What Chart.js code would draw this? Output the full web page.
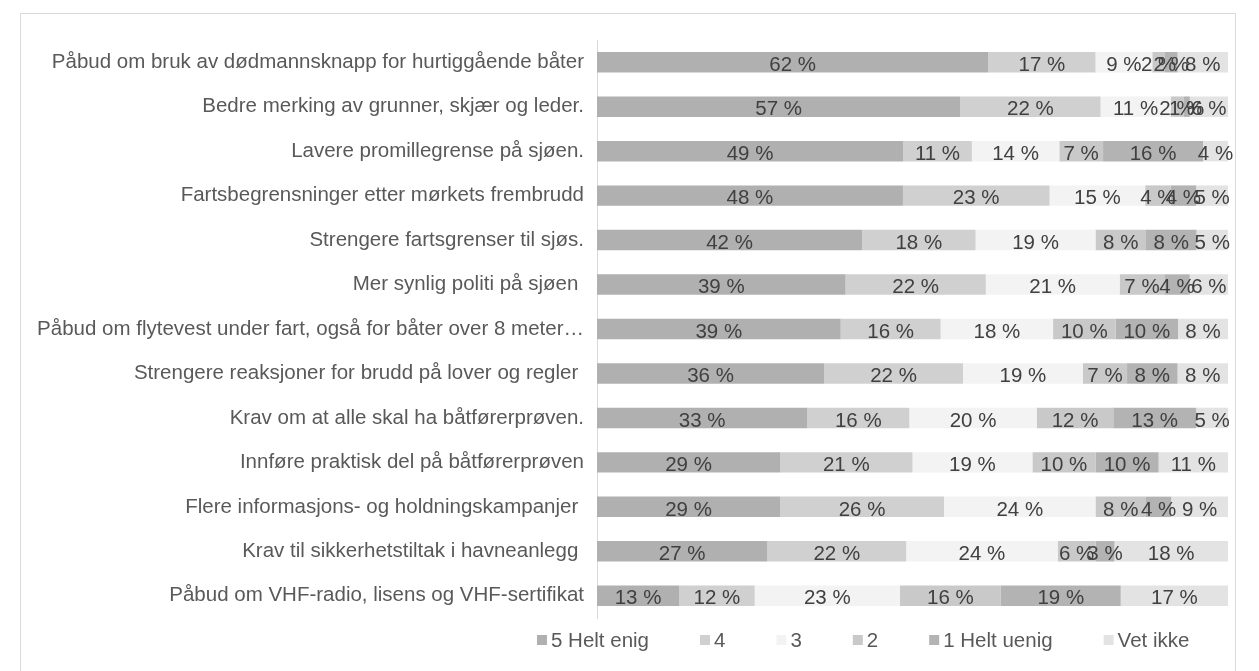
<!DOCTYPE html>
<html>
<head>
<meta charset="utf-8">
<script src="https://cdn.jsdelivr.net/npm/chart.js@4.4.0/dist/chart.umd.min.js"></script>
<style>
    html, body { margin: 0; padding: 0; background: #fff; }
    #frame { position: absolute; left: 20px; top: 13px; width: 1214px; height: 700px; border: 1px solid #d9d9d9; }
    #wrap { position: absolute; left: 0; top: 0; width: 1259px; height: 671px; }
</style>
</head>
<body>
<div id="frame"></div>
<div id="wrap"><canvas id="bar-chart"></canvas></div>
<script>
const categories = [
    "Påbud om bruk av dødmannsknapp for hurtiggående båter",
    "Bedre merking av grunner, skjær og leder.",
    "Lavere promillegrense på sjøen.",
    "Fartsbegrensninger etter mørkets frembrudd",
    "Strengere fartsgrenser til sjøs.",
    "Mer synlig politi på sjøen ",
    "Påbud om flytevest under fart, også for båter over 8 meter…",
    "Strengere reaksjoner for brudd på lover og regler ",
    "Krav om at alle skal ha båtførerprøven.",
    "Innføre praktisk del på båtførerprøven",
    "Flere informasjons- og holdningskampanjer ",
    "Krav til sikkerhetstiltak i havneanlegg ",
    "Påbud om VHF-radio, lisens og VHF-sertifikat"
];

const series_names = ["5 Helt enig", "4", "3", "2", "1 Helt uenig", "Vet ikke"];

const helt_enig = [62, 57, 49, 48, 42, 39, 39, 36, 33, 29, 29, 27, 13];
const fire      = [17, 22, 11, 23, 18, 22, 16, 22, 16, 21, 26, 22, 12];
const tre       = [ 9, 11, 14, 15, 19, 21, 18, 19, 20, 19, 24, 24, 23];
const to        = [ 2,  2,  7,  4,  8,  7, 10,  7, 12, 10,  8,  6, 16];
const helt_uenig= [ 2,  1, 16,  4,  8,  4, 10,  8, 13, 10,  4,  3, 19];
const vet_ikke  = [ 8,  6,  4,  5,  5,  6,  8,  8,  5, 11,  9, 18, 17];

const colors = ["#b0b0b0", "#d0d0d0", "#f3f3f3", "#c9c9c9", "#b3b3b3", "#e3e3e3"];

const raw_series = [helt_enig, fire, tre, to, helt_uenig, vet_ikke];

// 100 % stacked like Excel: every row is scaled by its own total
const row_totals = categories.map(function (c, i) {
    return raw_series.reduce((a, s) => a + s[i], 0);
});

const FONT = "'Liberation Sans', Arial, sans-serif";
const FONT_SIZE = 20.5;

const datasets = raw_series.map(function (values, k) {
    return {
        label: series_names[k],
        data: values.map((v, i) => v * 100 / row_totals[i]),
        raw: values,
        backgroundColor: colors[k],
        borderWidth: 0,
        barPercentage: 0.92,
        categoryPercentage: 0.5
    };
});

const barLabels = {
    id: 'barLabels',
    afterDatasetsDraw(chart) {
        const ctx = chart.ctx;
        ctx.save();
        ctx.font = FONT_SIZE + "px " + FONT;
        ctx.fillStyle = "#404040";
        ctx.textAlign = "center";
        ctx.textBaseline = "middle";
        chart.data.datasets.forEach(function (ds, k) {
            chart.getDatasetMeta(k).data.forEach(function (bar, i) {
                ctx.fillText(ds.raw[i] + " %", (bar.base + bar.x) / 2, bar.y + 3);
            });
        });
        ctx.restore();
    }
};

const bottomLegend = {
    id: 'bottomLegend',
    afterDraw(chart) {
        const ctx = chart.ctx;
        ctx.save();
        ctx.font = FONT_SIZE + "px " + FONT;
        ctx.textBaseline = "middle";
        let x = 537;
        const y = 640;
        chart.data.datasets.forEach(function (ds) {
            ctx.fillStyle = ds.backgroundColor;
            ctx.fillRect(x, y - 5, 10, 10);
            ctx.fillStyle = "#595959";
            ctx.fillText(ds.label, x + 14, y + 1);
            x += 14 + ctx.measureText(ds.label).width + 51;
        });
        ctx.restore();
    }
};

new Chart(document.getElementById("bar-chart"), {
    type: 'bar',
    data: {
        labels: categories,
        datasets: datasets
    },
    options: {
        indexAxis: 'y',
        responsive: true,
        maintainAspectRatio: false,
        animation: false,
        layout: {
            padding: { left: 20, right: 31, top: 40, bottom: 53 }
        },
        plugins: {
            legend: { display: false },
            tooltip: { enabled: false }
        },
        scales: {
            x: {
                stacked: true,
                min: 0,
                max: 100,
                display: false
            },
            y: {
                stacked: true,
                grid: { display: false, drawTicks: false },
                border: { display: true, color: "#d9d9d9", width: 1 },
                ticks: {
                    padding: 13,
                    color: "#595959",
                    font: { family: FONT, size: FONT_SIZE }
                },
                afterFit: function (scale) {
                    scale.width = 577;
                }
            }
        }
    },
    plugins: [barLabels, bottomLegend]
});
</script>
</body>
</html>
